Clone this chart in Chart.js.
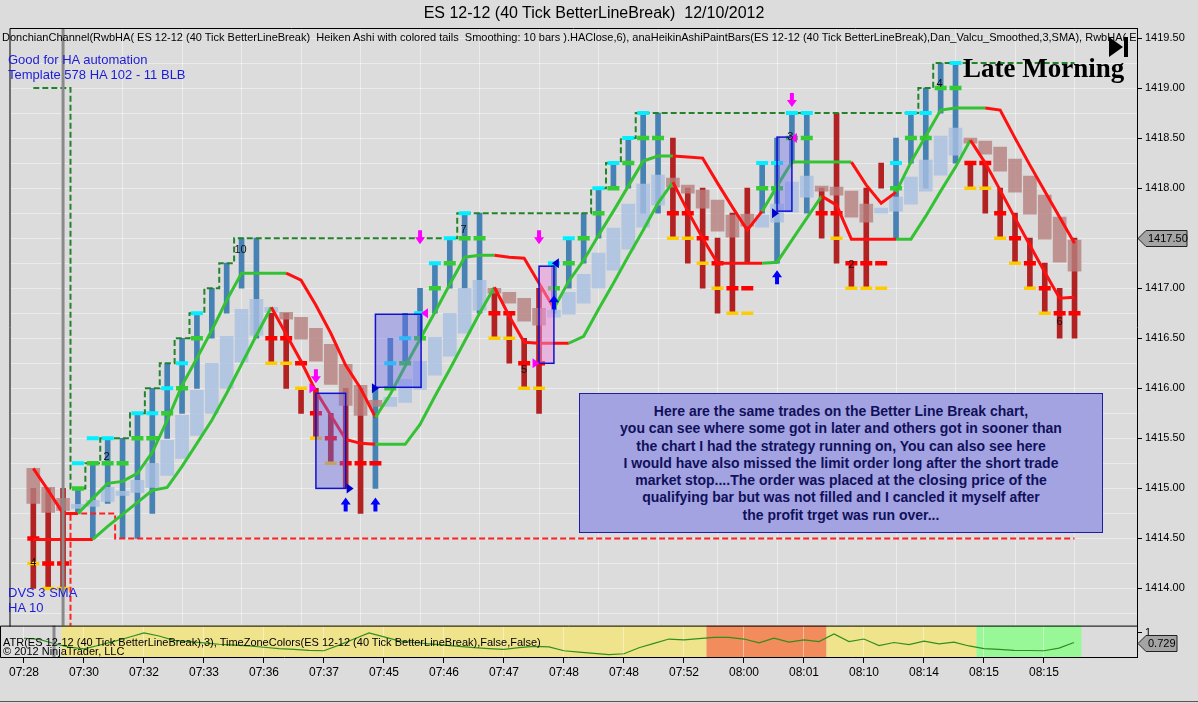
<!DOCTYPE html>
<html><head><meta charset="utf-8">
<script src="https://cdn.jsdelivr.net/npm/chart.js@4.4.0/dist/chart.umd.min.js"></script>
<style>
html,body{margin:0;padding:0;}
body{width:1198px;height:703px;background:#dcdcdc;position:relative;overflow:hidden;font-family:"Liberation Sans",Arial,sans-serif;}
canvas{position:absolute;left:0;}
#main{top:0;}
#atr{top:626px;}
.t{position:absolute;white-space:pre;z-index:3;}
#note{position:absolute;left:579px;top:393px;width:524px;height:140px;border:1px solid #1e1ea0;background:rgb(163,163,226);
 color:#10105a;font:bold 14px "Liberation Sans",Arial,sans-serif;line-height:17.3px;text-align:center;padding-top:9px;box-sizing:border-box;z-index:3;}
#frameB{position:absolute;left:0;top:701px;width:1198px;height:1px;background:#555;}
</style></head><body>
<canvas id="main" width="1198" height="626"></canvas>
<canvas id="atr" width="1198" height="77"></canvas>
<div class="t" style="left:0;width:1188px;text-align:center;top:4px;font-size:16px;">ES 12-12 (40 Tick BetterLineBreak)  12/10/2012</div>
<div class="t" style="left:2px;top:31px;width:1134px;overflow:hidden;font-size:11px;">DonchianChannel(RwbHA( ES 12-12 (40 Tick BetterLineBreak)  Heiken Ashi with colored tails  Smoothing: 10 bars ).HAClose,6), anaHeikinAshiPaintBars(ES 12-12 (40 Tick BetterLineBreak),Dan_Valcu_Smoothed,3,SMA), RwbHA( ES 12-12</div>
<div class="t" style="left:8px;top:52px;font-size:13px;color:#1c1cd8;">Good for HA automation</div>
<div class="t" style="left:8px;top:67px;font-size:13px;color:#1c1cd8;">Template 578 HA 102 - 11 BLB</div>
<div class="t" style="left:8px;top:585px;font-size:13px;color:#1c1cd8;">DVS 3 SMA</div>
<div class="t" style="left:8px;top:600px;font-size:13px;color:#1c1cd8;">HA 10</div>
<div class="t" style="left:963px;top:55px;font:bold 27px 'Liberation Serif','Times New Roman',serif;line-height:27px;color:#000;">Late Morning</div>
<div id="note">Here are the same trades on the Better Line Break chart,<br>you can see where some got in later and others got in sooner than<br>the chart I had the strategy running on, You can also see here<br>I would have also missed the limit order long after the short trade<br>market stop....The order was placed at the closing price of the<br>qualifying bar but was not filled and I cancled it myself after<br>the profit trget was run over...</div>
<div class="t" style="left:3px;top:636px;font-size:11px;">ATR(ES 12-12 (40 Tick BetterLineBreak),3), TimeZoneColors(ES 12-12 (40 Tick BetterLineBreak),False,False)</div>
<div class="t" style="left:3px;top:645px;font-size:11px;">© 2012 NinjaTrader, LLC</div>
<div id="frameB"></div>
<script>
// ---------------- DATA ----------------
const timeLabels = ['07:28','07:30','07:32','07:33','07:36','07:37','07:45','07:46','07:47','07:48','07:48','07:52','08:00','08:01','08:10','08:14','08:15','08:15'];
const timeTickBars = [0,4,8,12,16,20,24,28,32,36,40,44,48,52,56,60,64,68];
const priceLabels = ['1419.50','1419.00','1418.50','1418.00','1417.50','1417.00','1416.50','1416.00','1415.50','1415.00','1414.50','1414.00'];

const barDir = ('ddd'+'uuuuuuuuuuuuu'+'ddddddd'+'uuuuuuuu'+'dddd'+'uuuuuuuu'+'dddddd'+'uuuu'+'ddddd'+'uuuuu'+'dddddddd').split('');
const barHigh = [1415.00,1415.00,1415.00,1415.00,1415.25,1415.50,1415.50,1415.75,1416.00,1416.25,
 1416.50,1416.75,1417.00,1417.25,1417.50,1417.50,1416.75,1416.75,1416.00,1416.00,
 1415.75,1416.00,1416.00,1416.00,1416.50,1416.75,1417.00,1417.25,1417.50,1417.75,
 1417.75,1417.00,1416.75,1416.50,1417.00,1417.25,1417.50,1417.75,1418.00,1418.25,
 1418.50,1418.75,1418.75,1418.50,1418.00,1418.00,1417.50,1417.75,1418.00,1418.25,
 1418.50,1418.75,1418.75,1418.00,1418.75,1417.25,1418.00,1418.25,1418.50,1418.75,
 1419.00,1419.25,1419.25,1418.25,1418.25,1418.00,1417.75,1417.50,1417.25,1417.00,1417.50];
const barLow = [1414.00,1414.00,1414.00,1414.75,1414.50,1414.85,1414.50,1414.50,1414.75,1415.50,
 1415.75,1416.00,1416.50,1416.75,1417.00,1416.50,1416.25,1416.00,1415.75,1415.50,
 1415.25,1415.00,1414.75,1415.00,1416.00,1416.25,1416.50,1416.75,1417.00,1417.00,
 1416.75,1416.50,1416.25,1416.00,1415.75,1416.75,1417.00,1417.25,1417.50,1418.00,
 1418.00,1417.75,1417.75,1417.50,1417.25,1417.00,1416.75,1416.75,1417.25,1417.75,
 1417.25,1418.25,1417.75,1417.50,1417.25,1417.00,1417.00,1418.00,1417.50,1418.25,
 1418.00,1418.75,1418.25,1418.00,1417.75,1417.50,1417.25,1417.00,1416.75,1416.50,1416.50];

const haOpen = [1415.20,1415.01,1414.90,1414.80,1414.82,1414.87,1414.93,1414.96,1415.01,1415.13,
 1415.30,1415.53,1415.75,1416.00,1416.26,1416.53,1416.76,1416.76,1416.71,1416.60,
 1416.44,1416.24,1416.03,1415.88,1415.82,1415.86,1415.99,1416.13,1416.32,1416.55,
 1416.78,1417.00,1416.96,1416.90,1416.80,1416.71,1416.74,1416.85,1417.00,1417.18,
 1417.39,1417.61,1417.83,1418.10,1418.03,1417.98,1417.88,1417.73,1417.74,1417.61,
 1417.66,1417.76,1417.91,1418.02,1418.01,1417.97,1417.84,1417.75,1417.77,1417.84,
 1417.97,1418.13,1418.33,1418.50,1418.47,1418.41,1418.29,1418.12,1417.93,1417.71,1417.48];
const haClose = [1414.85,1414.76,1414.78,1414.84,1414.88,1415.01,1414.97,1415.08,1415.25,1415.48,
 1415.73,1415.98,1416.25,1416.52,1416.79,1416.89,1416.81,1416.69,1416.49,1416.27,
 1416.04,1415.83,1415.73,1415.82,1415.91,1416.09,1416.27,1416.51,1416.75,1417.00,
 1417.08,1416.95,1416.85,1416.67,1416.63,1416.78,1416.96,1417.14,1417.35,1417.60,
 1417.84,1418.04,1418.13,1418.01,1417.95,1417.80,1417.57,1417.51,1417.62,1417.73,
 1417.84,1418.06,1418.12,1417.97,1417.93,1417.71,1417.66,1417.80,1417.91,1418.11,
 1418.28,1418.52,1418.60,1418.45,1418.34,1418.17,1417.96,1417.74,1417.49,1417.26,1417.17];

const redMarks = [[0,1414.50],[1,1414.25],[2,1414.25],[16,1416.50],[17,1416.50],[18,1416.25],[19,1415.75],[20,1415.50],[21,1415.25],[22,1415.25],[23,1415.25],
 [31,1416.75],[32,1416.75],[33,1416.25],[34,1416.25],[43,1417.75],[44,1417.75],[45,1417.50],[46,1417.25],[47,1417.00],[48,1417.00],
 [53,1417.75],[54,1417.75],[55,1417.25],[56,1417.25],[57,1417.25],[63,1418.25],[64,1418.25],[65,1417.75],[66,1417.50],[67,1417.25],[68,1417.00],[69,1416.75],[70,1416.75]];
const yellowMarks = [[0,1414.25],[1,1414.00],[2,1414.00],[16,1416.25],[17,1416.25],[18,1416.00],[19,1415.50],[20,1415.25],
 [31,1416.50],[32,1416.50],[33,1416.00],[34,1416.00],[43,1417.50],[44,1417.50],[45,1417.25],[46,1417.00],[47,1416.75],[48,1416.75],
 [54,1417.50],[55,1417.00],[56,1417.00],[57,1417.00],[63,1418.00],[64,1418.00],[65,1417.50],[66,1417.25],[67,1417.00],[68,1416.75]];
const greenMarks = [[3,1415.00],[4,1415.25],[5,1415.25],[6,1415.25],[7,1415.50],[8,1415.50],[9,1415.75],[10,1416.00],[11,1416.50],
 [24,1416.00],[25,1416.25],[26,1416.50],[27,1417.00],[28,1417.25],[29,1417.50],[30,1417.50],
 [35,1417.00],[36,1417.25],[37,1417.50],[38,1417.75],[39,1418.00],[40,1418.25],[41,1418.50],[42,1418.50],
 [49,1418.00],[50,1418.00],[51,1418.50],[52,1418.50],[58,1418.00],[59,1418.50],[60,1418.50],[61,1419.00],[62,1419.00]];
const cyanMarks = [[3,1415.25],[4,1415.50],[5,1415.50],[7,1415.75],[8,1415.75],[9,1416.00],[10,1416.25],[11,1416.75],
 [24,1416.25],[25,1416.50],[26,1416.75],[27,1417.25],[28,1417.50],[29,1417.75],[35,1417.25],[36,1417.50],
 [38,1418.00],[39,1418.25],[40,1418.50],[41,1418.75],[49,1418.25],[50,1418.25],[51,1418.75],[52,1418.75],
 [58,1418.25],[59,1418.75],[60,1418.75],[62,1419.25]];

const line1 = [1415.20,1414.98,1414.75,1414.75,1414.90,1415.05,1415.07,1415.15,1415.36,1415.68,
 1416.03,1416.30,1416.58,1416.88,1417.15,1417.15,1417.15,1417.15,1417.08,1416.83,
 1416.55,1416.23,1416.00,1415.71,1415.94,1416.22,1416.49,1416.76,1417.04,1417.31,
 1417.33,1417.33,1417.31,1417.30,1417.05,1416.80,1417.07,1417.28,1417.53,1417.77,
 1418.02,1418.27,1418.32,1418.32,1418.31,1418.30,1418.05,1417.81,1417.58,1417.77,
 1418.02,1418.26,1418.26,1418.26,1418.26,1418.26,1418.03,1417.85,1417.96,1418.26,
 1418.52,1418.78,1418.80,1418.80,1418.80,1418.78,1418.50,1418.23,1417.97,1417.71,1417.45];
const line1Dir = ('dddd'+'uuuuuuuuuuuuuu'+'dddddd'+'uuuuuuuu'+'dddd'+'uuuuuuuu'+'dddddd'+'uuuuuu'+'ddd'+'uuuuuu'+'dddddd').split('');
const line2 = [1414.49,1414.49,1414.49,1414.49,1414.49,1414.62,1414.74,1414.86,1414.98,1415.01,
 1415.22,1415.45,1415.68,1415.95,1416.24,1416.53,1416.81,1416.54,1416.27,1415.97,
 1415.73,1415.49,1415.45,1415.44,1415.44,1415.44,1415.64,1415.92,1416.19,1416.47,
 1416.75,1417.01,1416.72,1416.46,1416.45,1416.45,1416.45,1416.52,1416.79,1417.05,
 1417.32,1417.58,1417.85,1418.06,1417.77,1417.50,1417.25,1417.25,1417.25,1417.25,
 1417.26,1417.48,1417.70,1417.92,1417.83,1417.49,1417.49,1417.49,1417.49,1417.49,
 1417.72,1417.97,1418.21,1418.48,1418.25,1417.98,1417.70,1417.43,1417.16,1416.90,1416.91];
const line2Dir = ('ddddd'+'uuuuuuuuuuuu'+'ddddddd'+'uuuuuuuu'+'ddddd'+'uuuuuuu'+'dddddd'+'uuuu'+'ddddd'+'uuuuu'+'ddddddd').split('');

const donchUpper = [1419.00,1419.00,1419.00,1415.00,1415.25,1415.50,1415.50,1415.75,1416.00,1416.25,
 1416.50,1416.75,1417.00,1417.25,1417.50,1417.50,1417.50,1417.50,1417.50,1417.50,
 1417.50,1417.50,1417.50,1417.50,1417.50,1417.50,1417.50,1417.50,1417.50,1417.75,
 1417.75,1417.75,1417.75,1417.75,1417.75,1417.75,1417.75,1417.75,1418.00,1418.25,
 1418.50,1418.75,1418.75,1418.75,1418.75,1418.75,1418.75,1418.75,1418.75,1418.75,
 1418.75,1418.75,1418.75,1418.75,1418.75,1418.75,1418.75,1418.75,1418.75,1418.75,
 1419.00,1419.25,1419.25,1419.25,1419.25,1419.25,1419.25,1419.25,1419.25,1419.25,1419.25];
const donchLower = [1413.25,1413.25,1413.25,1414.75,1414.75,1414.75,1414.50,1414.50,1414.50,1414.50,
 1414.50,1414.50,1414.50,1414.50,1414.50,1414.50,1414.50,1414.50,1414.50,1414.50,
 1414.50,1414.50,1414.50,1414.50,1414.50,1414.50,1414.50,1414.50,1414.50,1414.50,
 1414.50,1414.50,1414.50,1414.50,1414.50,1414.50,1414.50,1414.50,1414.50,1414.50,
 1414.50,1414.50,1414.50,1414.50,1414.50,1414.50,1414.50,1414.50,1414.50,1414.50,
 1414.50,1414.50,1414.50,1414.50,1414.50,1414.50,1414.50,1414.50,1414.50,1414.50,
 1414.50,1414.50,1414.50,1414.50,1414.50,1414.50,1414.50,1414.50,1414.50,1414.50,1414.50];

const atrValues = [0.85,0.82,0.70,0.60,0.55,0.65,0.76,0.88,1.00,0.914,
 0.791,0.754,0.717,0.680,0.655,0.631,0.594,0.557,0.532,0.507,
 0.495,0.655,0.828,1.00,0.889,0.778,0.729,0.692,0.655,0.618,
 0.581,0.557,0.532,0.581,0.618,0.606,0.495,0.458,0.421,0.384,
 0.409,0.581,0.704,0.828,0.803,0.840,0.877,0.877,0.828,0.717,
 0.852,0.741,0.803,0.754,0.975,0.754,0.828,0.643,0.729,0.667,
 0.766,0.692,0.741,0.631,0.557,0.532,0.507,0.502,0.495,0.569,0.729];
const zoneStart = [3,46,54,64];
const zoneEnd = [45,53,63,70];
const zoneKind = ['pre','mid','late','end'];

// trade annotations: [fromBar, toBar, topPrice, bottomPrice, kind]
const tradeBoxes = [[19,21,1415.95,1415.00,'b'],[23,26.07,1416.74,1416.01,'b'],[34,35,1417.22,1416.25,'p'],[50,51,1418.51,1417.77,'b']];
const shortArrows = [[19,1416.05],[26,1417.44],[34,1417.44],[51,1418.81]];
const longArrows = [[21,1414.91],[23,1414.91],[35,1416.93],[50,1417.18]];
const entryTris = [[18.7,1416.00,'m',1],[26.4,1416.75,'m',-1],[33.7,1416.25,'m',1],[51.2,1418.50,'m',-1],
 [21.2,1415.00,'b',1],[22.9,1416.00,'b',1],[35.2,1417.25,'b',-1],[49.8,1417.75,'b',1]];
const barTags = [[0,1414.25,'4'],[4.93,1415.31,'2'],[13.93,1417.38,'10'],[28.93,1417.58,'7'],[33,1416.18,'5'],[50.9,1418.51,'3'],[55,1417.23,'2'],[60.93,1419.04,'4'],[69,1416.66,'6']];
const cursorBar = 2;
const lastPrice = 1417.50;
const lastAtr = 0.729;

// ---------------- CHART ----------------
const N = barHigh.length;
const idx = [...Array(N).keys()];
const X_MIN = -1.5333, X_MAX = 74.2;
const GREEN = '#34c234', RED = '#ff1010';
const FONT = 'Liberation Sans';
const isLabeled = v => priceLabels.includes(v.toFixed(2));
const gridLevels = [];
for (let v = 1413.75; v <= 1419.51; v += 0.25) gridLevels.push(Math.round(v * 100) / 100);

function markSet(pairs, color, w) {
  return { type: 'line', showLine: false, data: pairs.map(([i, v]) => ({x: i, y: v})),
    pointStyle: 'line', pointRadius: 6, pointHoverRadius: 6, borderColor: color,
    pointBorderColor: color, pointBorderWidth: w, order: 6 };
}
function xOptions(showLabels) {
  return {
    type: 'linear', min: X_MIN, max: X_MAX, offset: false,
    afterBuildTicks: s => { s.ticks = timeTickBars.map(v => ({value: v})); },
    afterFit: s => { s.height = showLabels ? 46 : 0; },
    grid: { color: 'rgba(255,255,255,0.42)', drawTicks: showLabels, tickLength: 6, tickColor: '#000' },
    border: { display: false },
    ticks: { display: showLabels, autoSkip: false, maxRotation: 0, padding: 2, color: '#000',
      font: { family: FONT, size: 12 },
      callback: v => { const k = timeTickBars.indexOf(v); return k >= 0 ? timeLabels[k] : ''; } }
  };
}

function drawMarker(ctx, x0, y, w, text) {
  ctx.beginPath();
  ctx.moveTo(x0, y); ctx.lineTo(x0 + 8, y - 8); ctx.lineTo(x0 + w, y - 8);
  ctx.lineTo(x0 + w, y + 8); ctx.lineTo(x0 + 8, y + 8); ctx.closePath();
  ctx.fillStyle = '#a4a4a4'; ctx.fill();
  ctx.strokeStyle = '#222'; ctx.lineWidth = 1; ctx.stroke();
  ctx.fillStyle = '#000'; ctx.font = '11px ' + FONT; ctx.textAlign = 'left'; ctx.textBaseline = 'middle';
  ctx.fillText(text, x0 + 10, y + 0.5);
}
function arrow(ctx, x, tip, down, color) {
  const h = 14, head = 7, hw = 5, sw = 2;
  const s = down ? -1 : 1;
  ctx.fillStyle = color;
  ctx.beginPath();
  ctx.moveTo(x, tip);
  ctx.lineTo(x - hw, tip + s * head); ctx.lineTo(x - sw, tip + s * head);
  ctx.lineTo(x - sw, tip + s * h); ctx.lineTo(x + sw, tip + s * h);
  ctx.lineTo(x + sw, tip + s * head); ctx.lineTo(x + hw, tip + s * head);
  ctx.closePath(); ctx.fill();
}

const mainPlugin = {
  id: 'mainOverlay',
  afterDatasetsDraw(chart) {
    const {ctx, chartArea: a, scales: {x, y}} = chart;
    ctx.save();
    ctx.beginPath(); ctx.rect(a.left, a.top, a.right - a.left, a.bottom - a.top); ctx.clip();
    tradeBoxes.forEach(([b0, b1, pt, pb, k]) => {
      const x0 = x.getPixelForValue(b0), x1 = x.getPixelForValue(b1);
      const y0 = y.getPixelForValue(pt), y1 = y.getPixelForValue(pb);
      ctx.fillStyle = k === 'p' ? 'rgba(240,140,220,0.5)' : 'rgba(110,110,235,0.42)';
      ctx.fillRect(x0, y0, x1 - x0, y1 - y0);
      ctx.strokeStyle = '#1010d0'; ctx.lineWidth = 1.5;
      ctx.strokeRect(x0, y0, x1 - x0, y1 - y0);
    });
    shortArrows.forEach(([b, p]) => arrow(ctx, x.getPixelForValue(b), y.getPixelForValue(p), true, '#ff00ff'));
    longArrows.forEach(([b, p]) => arrow(ctx, x.getPixelForValue(b), y.getPixelForValue(p), false, '#0000ff'));
    entryTris.forEach(([b, p, c, d]) => {
      const px = x.getPixelForValue(b), py = y.getPixelForValue(p);
      ctx.fillStyle = c === 'm' ? '#ff00ff' : '#0000cd';
      ctx.beginPath();
      ctx.moveTo(px + d * 5, py); ctx.lineTo(px - d * 2, py - 5); ctx.lineTo(px - d * 2, py + 5);
      ctx.closePath(); ctx.fill();
    });
    ctx.fillStyle = '#111'; ctx.font = '11px ' + FONT; ctx.textAlign = 'center'; ctx.textBaseline = 'middle';
    barTags.forEach(([b, p, t]) => ctx.fillText(t, x.getPixelForValue(b), y.getPixelForValue(p)));
    const cx = x.getPixelForValue(cursorBar);
    ctx.fillStyle = '#8a8a8a'; ctx.fillRect(cx - 1.5, a.top, 3, a.bottom - a.top);
    ctx.restore();
  },
  afterDraw(chart) {
    const {ctx, chartArea: a, scales: {y}} = chart;
    ctx.save();
    ctx.strokeStyle = '#000'; ctx.lineWidth = 1;
    ctx.beginPath();
    ctx.moveTo(a.right, a.top + 0.5); ctx.lineTo(a.left - 0.5, a.top + 0.5);
    ctx.lineTo(a.left - 0.5, a.bottom); ctx.stroke();
    ctx.fillStyle = '#000';
    ctx.beginPath(); ctx.moveTo(1109, 37); ctx.lineTo(1123, 47); ctx.lineTo(1109, 57); ctx.closePath(); ctx.fill();
    ctx.fillRect(1124, 37, 4, 20);
    drawMarker(ctx, a.right + 1, Math.round(y.getPixelForValue(lastPrice)) + 0.5, 49, lastPrice.toFixed(2));
    ctx.restore();
  }
};

function mainConfig() {
  return {
    type: 'bar',
    data: { datasets: [
      { type: 'bar', label: 'Price bars', data: idx.map(i => ({x: i, y: [barLow[i], barHigh[i]]})),
        backgroundColor: idx.map(i => barDir[i] === 'u' ? '#4682b4' : '#b22222'),
        barThickness: 5, grouped: false, order: 12 },
      { type: 'line', label: 'Donchian upper', data: idx.map(i => ({x: i, y: donchUpper[i]})),
        borderColor: '#23822a', borderWidth: 2, borderDash: [6, 3], stepped: 'middle', pointRadius: 0, order: 11 },
      { type: 'line', label: 'Donchian lower', data: idx.map(i => ({x: i, y: donchLower[i]})),
        borderColor: '#ff2020', borderWidth: 2, borderDash: [6, 3], stepped: 'middle', pointRadius: 0, order: 11 },
      { type: 'bar', label: 'Heiken Ashi', data: idx.map(i => ({x: i, y: [haOpen[i], haClose[i]]})),
        backgroundColor: idx.map(i => haClose[i] >= haOpen[i] ? 'rgba(168,192,226,0.82)' : 'rgba(184,128,128,0.8)'),
        barThickness: 13, grouped: false, order: 10 },
      markSet(yellowMarks, '#ffcc00', 3.5),
      markSet(cyanMarks, '#00f0ff', 4),
      markSet(redMarks, '#ff0000', 4.5),
      markSet(greenMarks, '#33cc33', 4.5),
      { type: 'line', label: 'Line 2', data: idx.map(i => ({x: i, y: line2[i]})), borderWidth: 3, pointRadius: 0,
        borderColor: GREEN, segment: { borderColor: c => line2Dir[c.p1DataIndex] === 'u' ? GREEN : RED }, order: 3 },
      { type: 'line', label: 'Line 1', data: idx.map(i => ({x: i, y: line1[i]})), borderWidth: 3, pointRadius: 0,
        borderColor: GREEN, segment: { borderColor: c => line1Dir[c.p1DataIndex] === 'u' ? GREEN : RED }, order: 2 }
    ]},
    options: {
      responsive: false, animation: false, devicePixelRatio: 1, events: [],
      layout: { padding: { left: 1, top: 28, right: 0, bottom: 0 } },
      plugins: { legend: { display: false }, tooltip: { enabled: false } },
      scales: {
        x: xOptions(false),
        y: {
          type: 'linear', position: 'right', min: 1413.62, max: 1419.60,
          afterBuildTicks: s => { s.ticks = gridLevels.map(v => ({value: v})); },
          afterFit: s => { s.width = 61; },
          grid: { color: 'rgba(255,255,255,0.42)', tickLength: 5,
            tickColor: c => (c.tick && isLabeled(c.tick.value)) ? '#000' : 'rgba(0,0,0,0)' },
          border: { color: '#000', width: 1 },
          ticks: { autoSkip: false, color: '#000', padding: 3, font: { family: FONT, size: 11 },
            callback: v => isLabeled(v) ? v.toFixed(2) : '' }
        }
      }
    },
    plugins: [mainPlugin]
  };
}

const zoneColor = { pre: '#efe48c', mid: '#f28c5c', late: '#efe48c', end: '#98f898' };
const atrPlugin = {
  id: 'atrOverlay',
  beforeDraw(chart) {
    const {ctx, chartArea: a, scales: {x}} = chart;
    ctx.save();
    zoneStart.forEach((s, k) => {
      const x0 = x.getPixelForValue(s - 0.5), x1 = x.getPixelForValue(zoneEnd[k] + 0.5);
      ctx.fillStyle = zoneColor[zoneKind[k]];
      ctx.fillRect(x0, a.top, x1 - x0, a.bottom - a.top);
    });
    ctx.restore();
  },
  afterDatasetsDraw(chart) {
    const {ctx, chartArea: a, scales: {x}} = chart;
    const cx = x.getPixelForValue(cursorBar);
    ctx.save(); ctx.fillStyle = '#8a8a8a'; ctx.fillRect(cx - 1.5, a.top, 3, a.bottom - a.top); ctx.restore();
  },
  afterDraw(chart) {
    const {ctx, chartArea: a, scales: {y}} = chart;
    ctx.save();
    ctx.strokeStyle = '#000'; ctx.lineWidth = 1;
    ctx.beginPath();
    ctx.moveTo(a.right, a.top + 0.5); ctx.lineTo(a.left - 0.5, a.top + 0.5);
    ctx.lineTo(a.left - 0.5, a.bottom + 0.5); ctx.lineTo(a.right, a.bottom + 0.5); ctx.stroke();
    drawMarker(ctx, a.right + 1, Math.round(y.getPixelForValue(lastAtr)) + 0.5, 39, lastAtr.toFixed(3));
    ctx.restore();
  }
};

function atrConfig() {
  return {
    type: 'line',
    data: { datasets: [
      { label: 'ATR', data: idx.map(i => ({x: i, y: atrValues[i]})), borderColor: '#2f8f1f', borderWidth: 1.2, pointRadius: 0, tension: 0 }
    ]},
    options: {
      responsive: false, animation: false, devicePixelRatio: 1, events: [],
      layout: { padding: { left: 1, top: 0, right: 0, bottom: 0 } },
      plugins: { legend: { display: false }, tooltip: { enabled: false } },
      scales: {
        x: xOptions(true),
        y: {
          type: 'linear', position: 'right', min: 0.317, max: 1.21,
          afterBuildTicks: s => { s.ticks = [{value: 1}]; },
          afterFit: s => { s.width = 61; },
          grid: { drawOnChartArea: false, tickLength: 5, tickColor: '#000' },
          border: { color: '#000', width: 1 },
          ticks: { autoSkip: false, color: '#000', padding: 3, font: { family: FONT, size: 11 }, callback: v => String(v) }
        }
      }
    },
    plugins: [atrPlugin]
  };
}

function make(el, cfgFn, h) {
  el.height = h; el.style.height = h + 'px'; el.style.width = '1198px';
  return new Chart(el, cfgFn());
}
// main panel: chart area must run from y=28 to y=626
const mainEl = document.getElementById('main');
let mainChart = make(mainEl, mainConfig, 626);
const dMain = 626 - mainChart.chartArea.bottom;
if (Math.abs(dMain) > 0.3) { mainChart.destroy(); mainChart = make(mainEl, mainConfig, Math.round(626 + dMain)); }

// ATR panel: chart area from y=626 to y=657
const atrEl = document.getElementById('atr');
let atrChart = make(atrEl, atrConfig, 77);
const topGap = atrChart.chartArea.top;
const hNeed = Math.round(77 + topGap + (31 - (atrChart.chartArea.bottom - atrChart.chartArea.top)) - topGap + topGap);
if (Math.abs((atrChart.chartArea.bottom - atrChart.chartArea.top) - 31) > 0.3) {
  atrChart.destroy();
  atrChart = make(atrEl, atrConfig, Math.round(77 + (31 - (77 - topGap - 46))));
}
atrEl.style.top = (626 - atrChart.chartArea.top) + 'px';
</script>
</body></html>
